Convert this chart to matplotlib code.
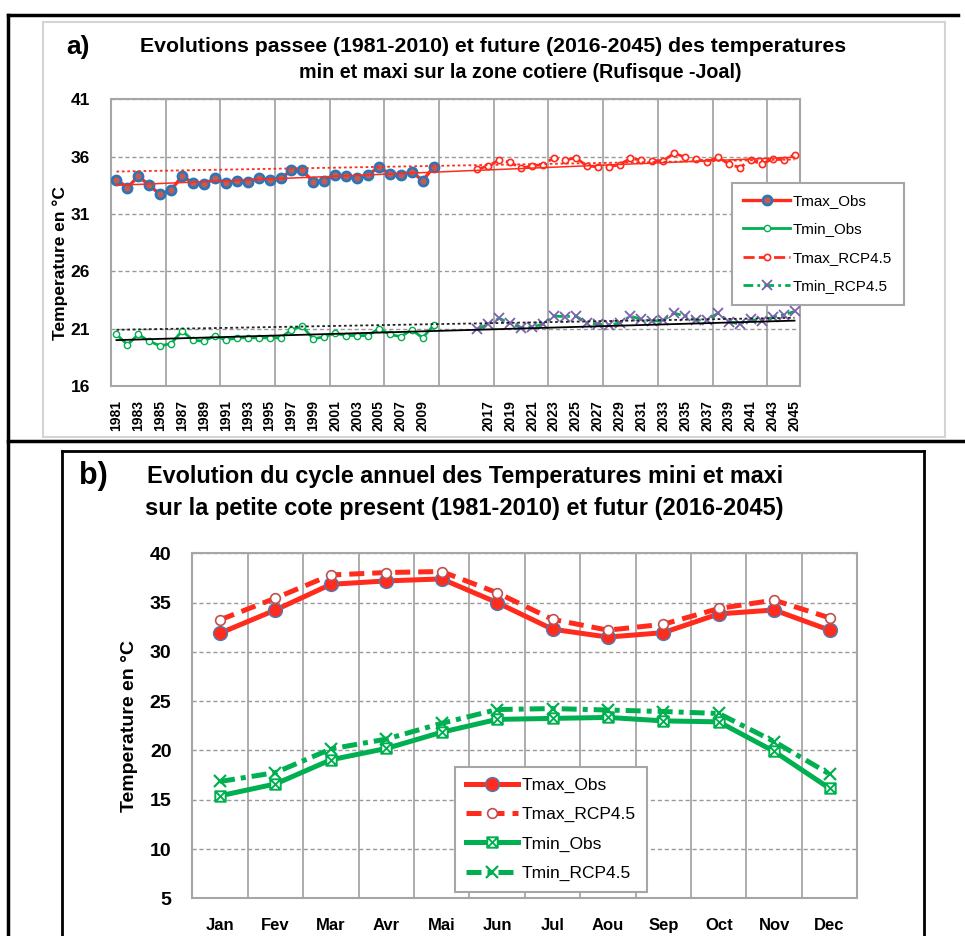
import matplotlib
matplotlib.use("Agg")
import matplotlib.pyplot as plt
from matplotlib.lines import Line2D
from matplotlib.path import Path
import numpy as np

plt.rcParams['font.family'] = ['Liberation Sans', 'DejaVu Sans']

W, H = 965, 936

# ---- panel a : yearly series ----
years_obs = list(range(1981, 2011))
years_rcp = list(range(2016, 2046))
n_gap = 3  # empty categories between the two periods

tmax_obs = [34.0, 33.3, 34.3, 33.5, 32.7, 33.1, 34.3, 33.7, 33.6, 34.1,
            33.7, 33.9, 33.8, 34.1, 34.0, 34.1, 34.8, 34.8, 33.8, 33.9,
            34.4, 34.3, 34.1, 34.4, 35.1, 34.5, 34.4, 34.7, 33.9, 35.1]
tmin_obs = [20.5, 19.6, 20.5, 19.9, 19.5, 19.7, 20.8, 20.0, 19.9, 20.4,
            20.0, 20.2, 20.2, 20.2, 20.2, 20.2, 20.9, 21.2, 20.1, 20.3,
            20.6, 20.4, 20.4, 20.4, 21.0, 20.5, 20.3, 20.9, 20.2, 21.3]
tmax_rcp = [34.9, 35.2, 35.7, 35.5, 35.0, 35.2, 35.3, 35.9, 35.7, 35.9,
            35.2, 35.1, 35.1, 35.3, 35.85, 35.7, 35.65, 35.65, 36.3, 35.95,
            35.8, 35.55, 35.95, 35.35, 35.05, 35.7, 35.35, 35.8, 35.75, 36.15]
tmin_rcp = [20.95, 21.4, 21.9, 21.45, 21.1, 21.15, 21.4, 22.1, 22.05, 22.1,
            21.5, 21.4, 21.3, 21.5, 22.1, 21.8, 21.65, 21.75, 22.35, 22.1,
            21.75, 21.75, 22.35, 21.6, 21.4, 21.8, 21.65, 22.0, 22.2, 22.5]

# trend lines: value at first and last category
tmax_trend = [33.5, 35.95]
tmax_trend_dot = [34.7, 35.75]
tmin_trend = [20.0, 21.7]
tmin_trend_dot = [20.9, 21.95]

# ---- panel b : annual cycle ----
months = ['Jan', 'Fev', 'Mar', 'Avr', 'Mai', 'Jun',
          'Jul', 'Aou', 'Sep', 'Oct', 'Nov', 'Dec']
tmax_obs_m = [31.9, 34.25, 36.85, 37.2, 37.4, 35.0, 32.3, 31.5, 31.95, 33.85, 34.25, 32.2]
tmax_rcp_m = [33.25, 35.45, 37.8, 38.05, 38.15, 36.0, 33.3, 32.2, 32.8, 34.4, 35.25, 33.45]
tmin_obs_m = [15.4, 16.6, 19.05, 20.2, 21.85, 23.15, 23.25, 23.35, 23.0, 22.9, 19.9, 16.15]
tmin_rcp_m = [16.85, 17.75, 20.15, 21.15, 22.75, 24.15, 24.25, 24.1, 23.95, 23.75, 20.9, 17.6]

RED = '#ff2b1c'
GREEN = '#00b050'
BLUE = '#2e75b6'
PURPLE = '#7b5fb0'
GRID = '#a6a6a6'


def fx(x):
  return x / W


def fy(y):
  return 1 - y / H


def fline(fig, x0, y0, x1, y1, **kw):
  fig.add_artist(Line2D([fx(x0), fx(x1)], [fy(y0), fy(y1)],
                        transform=fig.transFigure, **kw))


fig = plt.figure(figsize=(W / 100, H / 100), dpi=100)

# page frame (table borders)
fline(fig, 7.5, 15, 7.5, 936, color='black', lw=2.5)
fline(fig, 7.5, 15, 958, 15, color='black', lw=2.5)
fline(fig, 7.5, 441, 965, 441, color='black', lw=2.5)
# chart area of panel a
for (x0, y0, x1, y1) in [(43, 22, 945, 22), (43, 22, 43, 437), (43, 437, 945, 437), (945, 22, 945, 437)]:
  fline(fig, x0, y0, x1, y1, color='#d4d4d4', lw=1.5)
# chart box of panel b
fline(fig, 62, 451, 924, 451, color='black', lw=2)
fline(fig, 62, 451, 62, 936, color='black', lw=2)
fline(fig, 924, 451, 924, 936, color='black', lw=2)

# ================= panel a =================
labels = [str(y) for y in years_obs] + [''] * n_gap + [str(y) for y in years_rcp]
x = np.arange(len(labels))
x_obs = x[:len(years_obs)]
x_rcp = x[len(years_obs) + n_gap:]

axa = fig.add_axes([fx(111), fy(386), fx(800) - fx(111), fy(99.3) - fy(386)])
axa.set_xlim(-0.5, len(labels) - 0.5)
axa.set_ylim(16, 41)
axa.set_yticks(np.arange(16, 42, 5))
axa.set_xticks(x[::2])
axa.set_xticklabels(labels[::2], rotation=90, fontsize=10, fontweight='bold')
axa.set_xticks(np.arange(-0.5, len(labels), 5), minor=True)
axa.tick_params(axis='both', which='both', length=0)
axa.tick_params(axis='x', pad=10)
axa.tick_params(axis='y', pad=15, labelsize=12.5)
for t in axa.get_yticklabels():
  t.set_fontweight('bold')
axa.grid(axis='x', which='minor', color=GRID, lw=1.3, ls='-')
axa.grid(axis='y', which='major', color='#9a9a9a', lw=1, ls=(0, (3, 2)))
for s in axa.spines.values():
  s.set_color(GRID)
  s.set_linewidth(1.5)

ends = [x[0], x[-1]]
axa.plot(ends, tmax_trend, color=RED, lw=1.1, zorder=4)
axa.plot(ends, tmax_trend_dot, color=RED, lw=1.3, ls=(0, (1.5, 1.5)), zorder=4)
axa.plot(ends, tmin_trend, color='black', lw=1.3, zorder=4)
axa.plot(ends, tmin_trend_dot, color='#222222', lw=1.3, ls=(0, (1.5, 1.5)), zorder=4)

axa.plot(x_obs, tmax_obs, color=RED, lw=2.4, marker='o', ms=6.5,
         mfc='#c95a4c', mec=BLUE, mew=2, label='Tmax_Obs', zorder=3)
axa.plot(x_obs, tmin_obs, color=GREEN, lw=2, marker='o', ms=4.5,
         mfc='white', mec=GREEN, mew=1, label='Tmin_Obs', zorder=3)
axa.plot(x_rcp, tmax_rcp, color=RED, lw=2, ls=(0, (4, 1.5)), marker='o', ms=4.5,
         mfc='white', mec=RED, mew=1.2, label='Tmax_RCP4.5', zorder=3)
axa.plot(x_rcp, tmin_rcp, color=GREEN, lw=2, ls=(0, (3.5, 1.5, 1, 1.5)), marker='x', ms=7,
         mec=PURPLE, mew=1.3, label='Tmin_RCP4.5', zorder=3)

lega = fig.legend(handles=axa.get_lines()[4:], loc='upper left',
                  bbox_to_anchor=(fx(731.7), fy(182.7)), borderaxespad=0,
                  fontsize=10.9, frameon=True, fancybox=False, framealpha=1,
                  edgecolor=GRID, handlelength=3.1, handletextpad=0.2,
                  labelspacing=0.95, borderpad=0.75)
lega.get_frame().set_linewidth(1.5)

fig.text(fx(60), fy(263), 'Temperature en °C', rotation=90, ha='center', va='center',
         fontsize=12.5, fontweight='bold')
fig.text(fx(78), fy(47), 'a)', ha='center', va='center', fontsize=19, fontweight='bold')
fig.text(fx(493), fy(46), 'Evolutions passee (1981-2010) et future (2016-2045) des temperatures',
         ha='center', va='center', fontsize=15.3, fontweight='bold')
fig.text(fx(520), fy(73), 'min et maxi sur la zone cotiere (Rufisque -Joal)',
         ha='center', va='center', fontsize=14.2, fontweight='bold')

# ================= panel b =================
xm = np.arange(len(months))
axb = fig.add_axes([fx(192.3), fy(898.3), fx(857.3) - fx(192.3), fy(553.3) - fy(898.3)])
axb.set_xlim(-0.5, len(months) - 0.5)
axb.set_ylim(5, 40)
axb.set_yticks(np.arange(5, 41, 5))
axb.set_xticks(xm)
axb.set_xticklabels(months, fontsize=12, fontweight='bold')
axb.set_xticks(np.arange(0.5, len(months) - 1, 1), minor=True)
axb.tick_params(axis='both', which='both', length=0)
axb.tick_params(axis='x', pad=14)
axb.tick_params(axis='y', pad=15, labelsize=14)
for t in axb.get_yticklabels():
  t.set_fontweight('bold')
axb.grid(axis='x', which='minor', color=GRID, lw=1.3, ls='-')
axb.grid(axis='y', which='major', color='#9a9a9a', lw=1, ls=(0, (3, 2)))
for s in axb.spines.values():
  s.set_color(GRID)
  s.set_linewidth(1.5)

boxed_x = Path([(-1, -1), (1, -1), (1, 1), (-1, 1), (-1, -1),
                (-1, -1), (1, 1), (-1, 1), (1, -1)],
               [Path.MOVETO, Path.LINETO, Path.LINETO, Path.LINETO, Path.CLOSEPOLY,
                Path.MOVETO, Path.LINETO, Path.MOVETO, Path.LINETO])

axb.plot(xm, tmax_obs_m, color=RED, lw=3.6, marker='o', ms=10,
         mfc=RED, mec='#4a7ebb', mew=1, label='Tmax_Obs')
axb.plot(xm, tmax_rcp_m, color=RED, lw=3.6, ls=(0, (3, 1.6)), marker='o', ms=7,
         mfc='white', mec='#c0504d', mew=1.2, label='Tmax_RCP4.5')
axb.plot(xm, tmin_obs_m, color=GREEN, lw=3.6, marker=boxed_x, ms=7.5,
         mfc='white', mec=GREEN, mew=1.4, label='Tmin_Obs')
axb.plot(xm, tmin_rcp_m, color=GREEN, lw=3.6, ls=(0, (3, 1.2, 1, 1.2)), marker='x', ms=9,
         mec=GREEN, mew=1.6, label='Tmin_RCP4.5')

legb = fig.legend(handles=axb.get_lines(), loc='upper left',
                  bbox_to_anchor=(fx(455), fy(766.7)), borderaxespad=0,
                  fontsize=12.5, frameon=True, fancybox=False, framealpha=1,
                  edgecolor=GRID, handlelength=3.0, handletextpad=0.2,
                  labelspacing=0.8, borderpad=0.65)
legb.get_frame().set_linewidth(1.5)

fig.text(fx(130), fy(726), 'Temperature en °C', rotation=90, ha='center', va='center',
         fontsize=14, fontweight='bold')
fig.text(fx(93), fy(476), 'b)', ha='center', va='center', fontsize=22, fontweight='bold')
fig.text(fx(465), fy(477), 'Evolution du cycle annuel des Temperatures mini et maxi',
         ha='center', va='center', fontsize=16.8, fontweight='bold')
fig.text(fx(464), fy(509), 'sur la petite cote present (1981-2010) et futur (2016-2045)',
         ha='center', va='center', fontsize=17, fontweight='bold')

fig.savefig('out.png', dpi=100)
